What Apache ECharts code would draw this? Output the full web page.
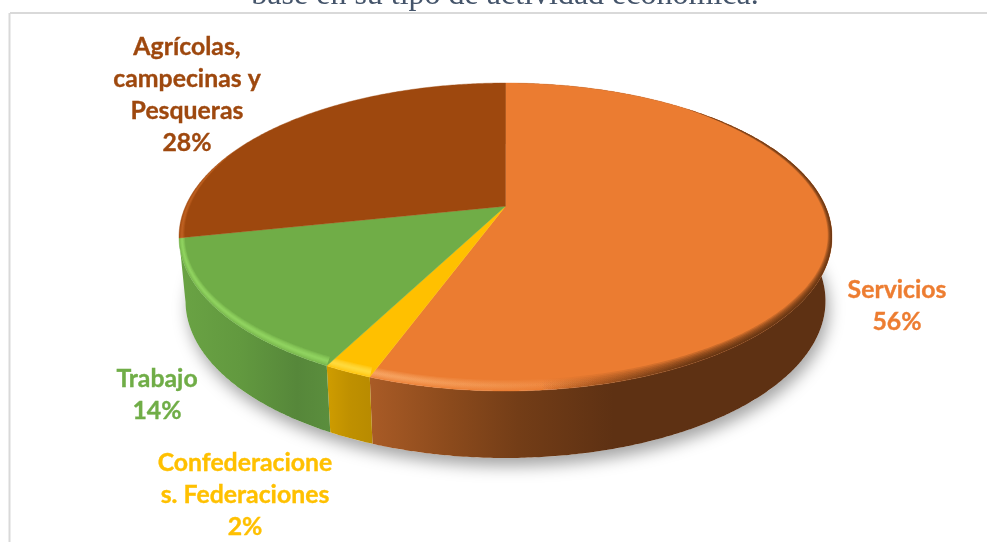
<!DOCTYPE html>
<html><head><meta charset="utf-8">
<style>html,body{margin:0;padding:0;background:#fff}#c{width:987px;height:542px}</style>
<script src="https://cdn.jsdelivr.net/npm/echarts@6/dist/echarts.min.js"></script>
</head><body><div id="c"></div>
<script>
const categories = ['Servicios', 'Confederacione\ns. Federaciones', 'Trabajo', 'Agrícolas,\ncampecinas y\nPesqueras'];
const values = [55.6, 2.0, 14.1, 28.3];
const titleText = 'base en su tipo de actividad económica.';
const colors = ['#EB7C31', '#FFC000', '#70AD47', '#9E480E'];
const labelColors = ['#ED7D31', '#FFC000', '#70AD47', '#9E480E'];
const labelCentres = [[897, 306], [245, 495], [157, 395], [187, 95]];

const G = echarts.graphic.LinearGradient;
const grad = (x0, x1, stops) => new G(x0, 0, x1, 0, stops, true);
const wallFill = [
  grad(370, 640, [{offset:0,color:'#A95B26'},{offset:.3,color:'#8B4A1C'},{offset:.55,color:'#733D17'},{offset:.9,color:'#5E3113'},{offset:1,color:'#5E3113'}]),
  grad(328, 372, [{offset:0,color:'#CE9C00'},{offset:.5,color:'#BF9000'},{offset:1,color:'#B88B00'}]),
  grad(180, 330, [{offset:0,color:'#6AA344'},{offset:.4,color:'#62993F'},{offset:.78,color:'#56873A'},{offset:1,color:'#5B8E3D'}]),
  'rgba(0,0,0,0)'
];
const orangeLight = grad(370, 600, [{offset:0,color:'rgba(255,190,130,.16)'},{offset:.7,color:'rgba(255,190,130,.05)'},{offset:1,color:'rgba(255,190,130,0)'}]);
const orangeDark = grad(540, 700, [{offset:0,color:'rgba(70,35,10,0)'},{offset:1,color:'rgba(70,35,10,.2)'}]);
const light = {yellow:'rgba(255,232,90,.2)', green:'rgba(165,235,115,.17)', brown:'rgba(225,125,55,.13)'};
const nested = [[0,1],[.1,.9],[.2,.8],[.3,.7],[.4,.6]];
const edge = [[0,1],[0,.85],[0,.7],[0,.55],[0,.4],[0,.25],[0,.12]];
const ramp = (a, b, t) => Math.max(0, Math.min(1, (t - a) / (b - a)));
const bevels = [
  [{bands:nested, fill:orangeLight, width:t => ramp(140, 175, t)},
   {bands:edge, fill:orangeDark, width:t => ramp(40, 125, t)}],
  [{bands:nested, fill:light.yellow, width:() => 1}],
  [{bands:nested, fill:light.green, width:() => 1}],
  [{bands:nested, fill:light.brown, width:t => 1 - ramp(258, 295, t)}]
];
const insetX = 6, insetY = 11;

// projective view of the circular pie
const topRim = {cx: 505.5, cy: 237, rx: 326.5, ry: 154};
const bottomRim = {cx: 505.5, cy: 301, rx: 320, ry: 157};
const boost = -0.2;
const total = values.reduce((a, b) => a + b, 0);
function rim(deg, e, dx, dy) {
  const t = deg * Math.PI / 180, u = Math.sin(t), v = -Math.cos(t);
  const k = 1 + boost * v;
  const xp = u * Math.sqrt(1 - boost * boost) / k, yp = (v + boost) / k;
  return [e.cx + xp * (e.rx - (dx || 0)), e.cy + yp * (e.ry - (dy || 0))];
}
function arc(a0, a1, e, inset) {
  const pts = [], n = Math.max(2, Math.ceil(Math.abs(a1 - a0) * 2));
  for (let i = 0; i <= n; i++) {
    const a = a0 + (a1 - a0) * i / n, d = inset ? inset(a) : 0;
    pts.push(rim(a, e, insetX * d, insetY * d));
  }
  return pts;
}
function range(i) {
  let s = 0;
  for (let k = 0; k < i; k++) s += values[k];
  return [s / total * 360, (s + values[i]) / total * 360];
}
const centre = [topRim.cx, topRim.cy + boost * topRim.ry];

function renderShadow() {
  return {type:'polygon', shape:{points: arc(0, 360, bottomRim)},
    style:{fill:'#fff', shadowColor:'rgba(0,0,0,.36)', shadowBlur:16, shadowOffsetY:8, shadowOffsetX:3}};
}
function renderWall(p) {
  const [a0, a1] = range(p.dataIndex);
  const pts = arc(a0, a1, topRim).concat(arc(a1, a0, bottomRim));
  return {type:'polygon', shape:{points: pts}, style:{fill: wallFill[p.dataIndex]}};
}
function renderTop(p) {
  const i = p.dataIndex;
  const [a0, a1] = range(i);
  const children = [{type:'polygon', shape:{points:[centre].concat(arc(a0, a1, topRim))},
    style:{fill: colors[i], stroke: colors[i], lineWidth: .4}}];
  bevels[i].forEach(layer => {
    layer.bands.forEach(([d0, d1]) => {
      const pts = arc(a0, a1, topRim, t => d0 * layer.width(t)).concat(arc(a1, a0, topRim, t => d1 * layer.width(t)));
      children.push({type:'polygon', shape:{points: pts}, style:{fill: layer.fill}});
    });
  });
  return {type:'group', children};
}
function renderLabel(p, api) {
  const i = p.dataIndex, c = labelCentres[i];
  return {type:'text', x:c[0], y:c[1], style:{
    text: categories[i] + '\n' + Math.round(api.value(1)) + '%',
    fill: labelColors[i], stroke: labelColors[i], lineWidth:.35,
    font:'bold 24.8px Lato', align:'center', verticalAlign:'middle', lineHeight:32
  }};
}
const data = values.map((v, i) => [i, v]);
const base = {type:'custom', coordinateSystem:'none', silent:true, animation:false, clip:false};
const chart = echarts.init(document.getElementById('c'), null, {renderer:'canvas'});
chart.setOption({
  animation:false,
  backgroundColor:'#fff',
  graphic:[
    {type:'line', z:0, shape:{x1:10, y1:13, x2:987, y2:13}, style:{stroke:'#D9D9D9', lineWidth:2}},
    {type:'line', z:0, shape:{x1:9.5, y1:13, x2:9.5, y2:542}, style:{stroke:'#D9D9D9', lineWidth:2}},
    {type:'text', z:1, x:505, y:-4, style:{text:titleText, fill:'#44546A', font:'32px "Liberation Serif"', align:'center', verticalAlign:'middle'}}
  ],
  series:[
    Object.assign({}, base, {name:'shadow', z:2, data:[[0, 0]], renderItem:renderShadow}),
    Object.assign({}, base, {name:'walls', z:3, data, renderItem:renderWall}),
    Object.assign({}, base, {name:'tops', z:4, data, renderItem:renderTop}),
    Object.assign({}, base, {name:'labels', z:5, data, renderItem:renderLabel})
  ]
});
</script></body></html>
